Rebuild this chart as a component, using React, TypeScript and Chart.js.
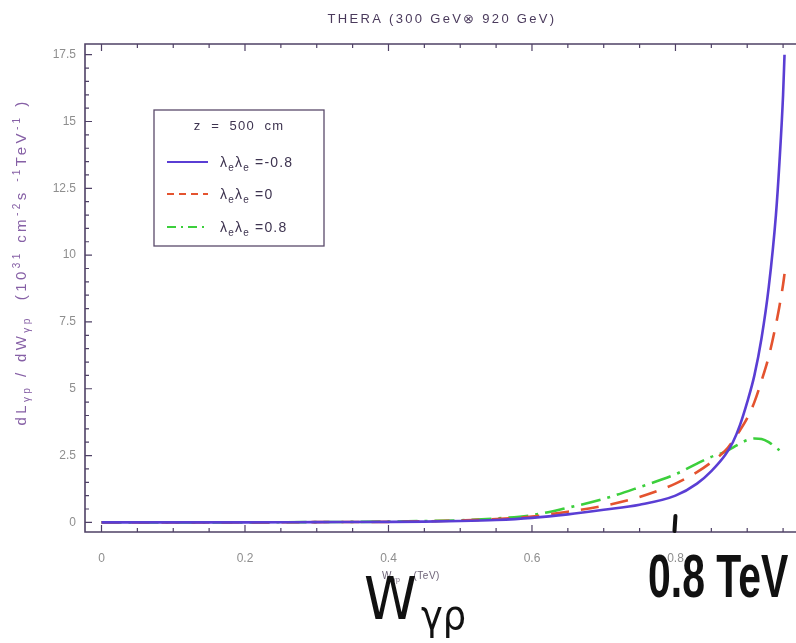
import { useEffect, useRef } from "react";
import { Chart, registerables } from "chart.js";

Chart.register(...registerables);

// Photon-proton invariant mass W_γp (TeV)
const wGamma = [
  0, 0.1, 0.2, 0.3, 0.4, 0.45, 0.5, 0.55, 0.6, 0.65, 0.7, 0.75, 0.8, 0.83, 0.85,
  0.87, 0.88, 0.89, 0.9, 0.91, 0.92, 0.93, 0.94, 0.945, 0.95, 0.952,
];

// dL/dW (10^31 cm^-2 s^-1 TeV^-1) for λeλe = -0.8, 0, 0.8
const lumNeg = [
  0, 0, 0, 0.01, 0.02, 0.03, 0.05, 0.09, 0.17, 0.3, 0.47, 0.66, 1.0, 1.45, 1.92,
  2.55, 3.0, 3.65, 4.5, 5.5, 6.9, 8.8, 11.5, 13.5, 16.0, 17.5,
];
const lumZero = [
  0, 0, 0, 0.01, 0.02, 0.04, 0.07, 0.12, 0.22, 0.4, 0.62, 0.95, 1.45, 1.88, 2.25,
  2.7, 3.05, 3.45, 3.9, 4.5, 5.3, 6.2, 7.4, 8.1, 8.9, 9.3,
];
const lumPos = [
  0, 0, 0, 0.01, 0.03, 0.05, 0.08, 0.15, 0.27, 0.55, 0.88, 1.32, 1.8, 2.2, 2.45,
  2.65, 2.8, 2.95, 3.08, 3.14, 3.12, 3.0, 2.8, 2.7, null, null,
];

const polarisations = ["-0.8", "0", "0.8"];
const xTicks = [0, 0.2, 0.4, 0.6, 0.8];
const yTicks = [0, 2.5, 5, 7.5, 10, 12.5, 15, 17.5];

const seriesColors = ["#5a3ed4", "#e4532f", "#3ccf3c"];
const plotDashes = [[], [18, 12], [20, 7, 3, 7]];
const legendDashes = [[], [7, 5], [9, 5, 2, 5]];

const FONT = '"Liberation Sans", Arial, sans-serif';

type Seg = { t: string; k?: "sub" | "sup" };

function segFont(size: number, k?: string, weight = "normal") {
  const s = k ? Math.round(size * 0.68) : size;
  return `${weight} ${s}px ${FONT}`;
}

function richWidth(ctx: CanvasRenderingContext2D, segs: Seg[], size: number) {
  let w = 0;
  for (const s of segs) {
    ctx.font = segFont(size, s.k);
    w += ctx.measureText(s.t).width;
  }
  return w;
}

function drawRich(
  ctx: CanvasRenderingContext2D,
  segs: Seg[],
  x: number,
  y: number,
  size: number,
  align: "left" | "center",
  color: string
) {
  ctx.fillStyle = color;
  ctx.textBaseline = "alphabetic";
  ctx.textAlign = "left";
  let cx = align === "center" ? x - richWidth(ctx, segs, size) / 2 : x;
  for (const s of segs) {
    ctx.font = segFont(size, s.k);
    const dy = s.k === "sub" ? size * 0.28 : s.k === "sup" ? -size * 0.42 : 0;
    ctx.fillText(s.t, cx, y + dy);
    cx += ctx.measureText(s.t).width;
  }
}

const framePlugin = {
  id: "frameTicks",
  afterDatasetsDraw(chart: any) {
    const { ctx, chartArea: a, scales } = chart;
    const xs = scales.x;
    const ys = scales.y;
    ctx.save();
    ctx.strokeStyle = "#4f4166";
    ctx.lineWidth = 1.6;
    ctx.beginPath();
    ctx.moveTo(a.right + 2, a.top);
    ctx.lineTo(a.left, a.top);
    ctx.lineTo(a.left, a.bottom);
    ctx.lineTo(a.right + 2, a.bottom);
    ctx.stroke();
    ctx.lineWidth = 1.2;
    ctx.beginPath();
    for (let i = 0; i <= 19; i++) {
      const px = xs.getPixelForValue(i * 0.05);
      const len = i % 4 === 0 ? 7 : 4;
      ctx.moveTo(px, a.top);
      ctx.lineTo(px, a.top + len);
      ctx.moveTo(px, a.bottom);
      ctx.lineTo(px, a.bottom - len);
    }
    for (let i = 0; i <= 35; i++) {
      const py = ys.getPixelForValue(i * 0.5);
      const len = i % 5 === 0 ? 7 : 4;
      ctx.moveTo(a.left, py);
      ctx.lineTo(a.left + len, py);
    }
    ctx.stroke();
    ctx.restore();
  },
};

const decorPlugin = {
  id: "decorations",
  afterDraw(chart: any) {
    const { ctx, scales } = chart;
    ctx.save();

    // title
    ctx.letterSpacing = "2.3px";
    ctx.font = `13px ${FONT}`;
    ctx.fillStyle = "#4a3a5c";
    ctx.textAlign = "center";
    ctx.textBaseline = "middle";
    ctx.fillText("THERA (300 GeV\u2297 920 GeV)", 442, 19);

    // y axis title
    ctx.save();
    ctx.translate(21, 262);
    ctx.rotate(-Math.PI / 2);
    ctx.letterSpacing = "3.4px";
    drawRich(
      ctx,
      [
        { t: "dL" },
        { t: "γp", k: "sub" },
        { t: " / dW" },
        { t: "γp", k: "sub" },
        { t: "  (10" },
        { t: "31", k: "sup" },
        { t: " cm" },
        { t: "-2", k: "sup" },
        { t: "s " },
        { t: "-1", k: "sup" },
        { t: "TeV" },
        { t: "-1", k: "sup" },
        { t: " )" },
      ],
      0,
      5,
      15,
      "center",
      "#8660a6"
    );
    ctx.restore();

    // legend box
    ctx.letterSpacing = "0px";
    ctx.strokeStyle = "#5a4a6a";
    ctx.lineWidth = 1.3;
    ctx.strokeRect(154, 110, 170, 136);
    ctx.font = `13px ${FONT}`;
    ctx.fillStyle = "#3e3450";
    ctx.textAlign = "center";
    ctx.textBaseline = "middle";
    ctx.letterSpacing = "1.2px";
    ctx.fillText("z  =  500  cm", 239, 126);
    const rows = [162, 194, 227];
    polarisations.forEach((p, i) => {
      ctx.save();
      ctx.strokeStyle = seriesColors[i];
      ctx.lineWidth = 2;
      ctx.setLineDash(legendDashes[i]);
      ctx.beginPath();
      ctx.moveTo(167, rows[i]);
      ctx.lineTo(208, rows[i]);
      ctx.stroke();
      ctx.restore();
      ctx.letterSpacing = "1.2px";
      drawRich(
        ctx,
        [{ t: "λ" }, { t: "e", k: "sub" }, { t: "λ" }, { t: "e", k: "sub" }, { t: " =" + p }],
        220,
        rows[i] + 5,
        14,
        "left",
        "#3e3450"
      );
    });

    // small axis label under the ticks
    ctx.letterSpacing = "0.5px";
    drawRich(ctx, [{ t: "W" }, { t: "γp", k: "sub" }, { t: "    (TeV)" }], 411, 579, 10, "center", "#6e6478");

    // hand-written annotations
    const p08 = scales.x.getPixelForValue(0.8);
    ctx.strokeStyle = "#111";
    ctx.lineWidth = 4;
    ctx.lineCap = "round";
    ctx.beginPath();
    ctx.moveTo(p08, 516);
    ctx.lineTo(p08 - 1, 531);
    ctx.stroke();

    ctx.letterSpacing = "0px";
    ctx.fillStyle = "#111";
    ctx.textAlign = "left";
    ctx.textBaseline = "alphabetic";
    ctx.save();
    ctx.translate(648, 597);
    ctx.scale(0.66, 1);
    ctx.font = `bold 62px ${FONT}`;
    ctx.fillText("0.8 TeV", 0, 0);
    ctx.restore();

    ctx.save();
    ctx.translate(364, 619);
    ctx.scale(0.92, 1);
    ctx.font = `58px "DejaVu Sans", sans-serif`;
    ctx.fillText("W", 0, 0);
    ctx.font = `40px "DejaVu Sans", sans-serif`;
    ctx.fillText("γρ", 62, 10);
    ctx.restore();

    ctx.restore();
  },
};

export default function App() {
  const canvasRef = useRef<HTMLCanvasElement | null>(null);

  useEffect(() => {
    const canvas = canvasRef.current;
    if (!canvas) return;
    const mk = (ys: (number | null)[]) => wGamma.map((x, i) => ({ x, y: ys[i] }));
    const series = [lumNeg, lumZero, lumPos];
    const chart = new Chart(canvas, {
      type: "line",
      data: {
        datasets: series.map((s, i) => ({
          label: `λeλe=${polarisations[i]}`,
          data: mk(s),
          borderColor: seriesColors[i],
          borderWidth: 2.6,
          borderDash: plotDashes[i],
          pointRadius: 0,
          fill: false,
          cubicInterpolationMode: "monotone" as const,
          spanGaps: false,
        })),
      },
      options: {
        animation: false,
        responsive: false,
        devicePixelRatio: 1,
        layout: { padding: { top: 44, left: 0, right: 0, bottom: 0 } },
        plugins: { legend: { display: false }, tooltip: { enabled: false }, title: { display: false } },
        scales: {
          x: {
            type: "linear",
            min: -0.023,
            max: 0.968,
            grid: { display: false, drawTicks: false },
            border: { display: false },
            afterBuildTicks: (s: any) => {
              s.ticks = xTicks.map((v) => ({ value: v }));
            },
            afterFit: (s: any) => {
              s.height = 111;
            },
            ticks: {
              padding: 19,
              color: "#8e8e8e",
              font: { family: "Liberation Sans", size: 12 },
              maxRotation: 0,
              autoSkip: false,
              callback: (v: any) => String(v),
            },
          },
          y: {
            type: "linear",
            min: -0.36,
            max: 17.9,
            grid: { display: false, drawTicks: false },
            border: { display: false },
            afterBuildTicks: (s: any) => {
              s.ticks = yTicks.map((v) => ({ value: v }));
            },
            afterFit: (s: any) => {
              s.width = 85;
            },
            ticks: {
              padding: 9,
              color: "#8e8e8e",
              font: { family: "Liberation Sans", size: 12 },
              autoSkip: false,
              callback: (v: any) => String(v),
            },
          },
        },
      },
      plugins: [framePlugin, decorPlugin],
    });
    return () => chart.destroy();
  }, []);

  return (
    <div style={{ position: "fixed", left: 0, top: 0, width: 796, height: 643, background: "#fff" }}>
      <canvas ref={canvasRef} width={796} height={643} style={{ display: "block" }} />
    </div>
  );
}
